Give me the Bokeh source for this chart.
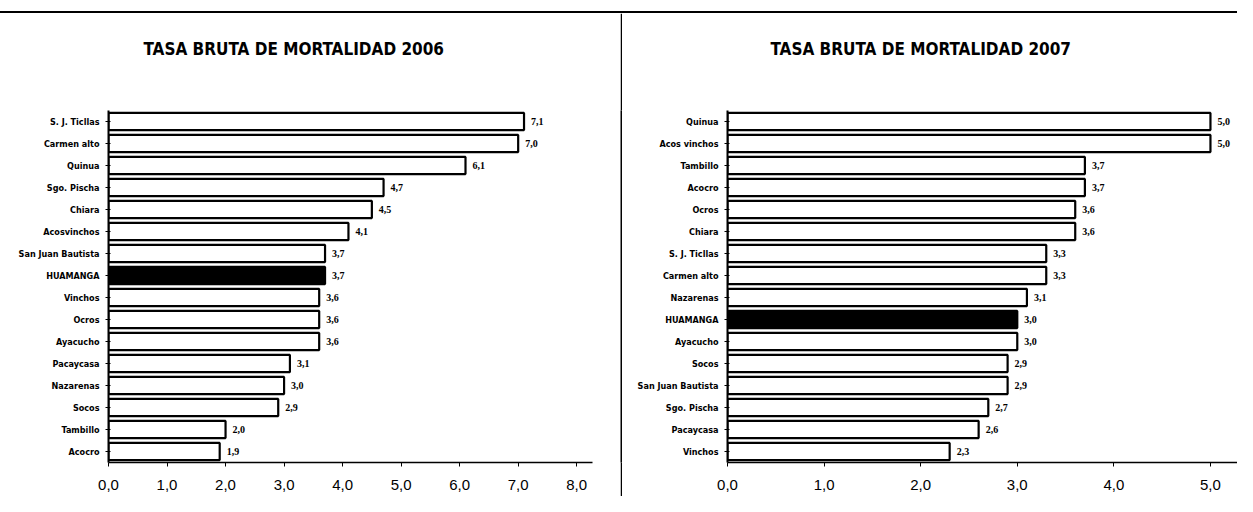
from bokeh.plotting import figure
from bokeh.models import FactorRange, ColumnDataSource, FixedTicker, LabelSet, Title, Range1d, Div, Spacer
from bokeh.layouts import row, column
from bokeh.embed import file_html
from bokeh.resources import INLINE

# ---------------- data ----------------
cats_2006 = ["S. J. Ticllas", "Carmen alto", "Quinua", "Sgo. Pischa", "Chiara",
             "Acosvinchos", "San Juan Bautista", "HUAMANGA", "Vinchos", "Ocros",
             "Ayacucho", "Pacaycasa", "Nazarenas", "Socos", "Tambillo", "Acocro"]
vals_2006 = [7.1, 7.0, 6.1, 4.7, 4.5, 4.1, 3.7, 3.7, 3.6, 3.6, 3.6, 3.1, 3.0, 2.9, 2.0, 1.9]

cats_2007 = ["Quinua", "Acos vinchos", "Tambillo", "Acocro", "Ocros", "Chiara",
             "S. J. Ticllas", "Carmen alto", "Nazarenas", "HUAMANGA", "Ayacucho",
             "Socos", "San Juan Bautista", "Sgo. Pischa", "Pacaycasa", "Vinchos"]
vals_2007 = [5.0, 5.0, 3.7, 3.7, 3.6, 3.6, 3.3, 3.3, 3.1, 3.0, 3.0, 2.9, 2.9, 2.7, 2.6, 2.3]

ticks_2006 = [0, 1, 2, 3, 4, 5, 6, 7, 8]
ticks_2007 = [0, 1, 2, 3, 4, 5]
title_2006 = "TASA BRUTA DE  MORTALIDAD 2006"
title_2007 = "TASA BRUTA DE  MORTALIDAD 2007"
highlight = "HUAMANGA"

NARROW = "Liberation Sans Narrow, DejaVu Sans Condensed, sans-serif"
H = 483


def fmt(v):
    return f"{v:.1f}".replace(".", ",")


def make_panel(title, cats, vals, ticks, x_end, width, frame_left, border_right, title_offset):
    fills = ["black" if c == highlight else "white" for c in cats]
    src = ColumnDataSource(dict(cat=cats, val=vals, fill=fills,
                                label=[fmt(v) for v in vals]))
    p = figure(width=width, height=H,
               y_range=FactorRange(factors=list(reversed(cats))),
               x_range=Range1d(0, x_end),
               output_backend="svg", toolbar_location=None,
               min_border_left=frame_left, min_border_right=border_right,
               min_border_top=97, min_border_bottom=34)
    p.hbar(y="cat", right="val", left=0, height=0.78, source=src,
           fill_color="fill", line_color="black", line_width=2.2)
    p.add_layout(LabelSet(x="val", y="cat", text="label", source=src,
                          x_offset=7, text_baseline="middle",
                          text_font_size="10px", text_font_style="bold",
                          text_font=NARROW, text_color="black"))
    # spacer title (closest to the frame) pushes the real title upward
    p.add_layout(Title(text=" ", standoff=31, text_font_size="17px"), "above")
    p.add_layout(Title(text=title, align="left", offset=title_offset, standoff=0,
                       text_font_size="17px", text_font_style="bold",
                       text_font=NARROW, text_color="black"), "above")
    p.xgrid.visible = False
    p.ygrid.visible = False
    p.outline_line_color = None
    p.background_fill_color = "white"
    p.border_fill_color = "white"

    p.xaxis.ticker = FixedTicker(ticks=ticks)
    p.xaxis.major_label_overrides = {t: fmt(t) for t in ticks}
    p.xaxis.major_label_text_font_size = "15px"
    p.xaxis.major_label_text_font = "Liberation Sans"
    p.xaxis.major_label_text_color = "black"
    p.xaxis.major_label_standoff = 13
    p.xaxis.axis_line_color = "black"
    p.xaxis.axis_line_width = 1.5
    p.xaxis.major_tick_line_color = "black"
    p.xaxis.major_tick_out = 4
    p.xaxis.major_tick_in = 0
    p.xaxis.minor_tick_line_color = None

    p.yaxis.major_label_text_font_size = "9px"
    p.yaxis.major_label_text_font_style = "bold"
    p.yaxis.major_label_text_font = NARROW
    p.yaxis.major_label_text_color = "black"
    p.yaxis.axis_line_color = "black"
    p.yaxis.axis_line_width = 2
    p.yaxis.major_tick_line_color = "black"
    p.yaxis.major_tick_out = 3
    p.yaxis.major_label_standoff = 6
    return p


def black_bar(width, height):
    b = figure(width=width, height=height, output_backend="svg", toolbar_location=None,
               x_range=Range1d(0, 1), y_range=Range1d(0, 1), min_border=0)
    b.axis.visible = False
    b.grid.visible = False
    b.outline_line_color = None
    b.background_fill_color = "black"
    b.border_fill_color = "black"
    return b


p1 = make_panel(title_2006, cats_2006, vals_2006, ticks_2006, 8.27, 620, 108, 28, 35)
p2 = make_panel(title_2007, cats_2007, vals_2007, ticks_2007, 5.28, 615, 105, 0, 43)

top_line = Div(text="", width=1237, height=2, margin=0,
               styles={"background-color": "black"})
layout = column(Spacer(width=1237, height=11, margin=0), top_line,
                row(p1, black_bar(2, H), p2), spacing=0)

open("out.html", "w").write(file_html(layout, INLINE))
